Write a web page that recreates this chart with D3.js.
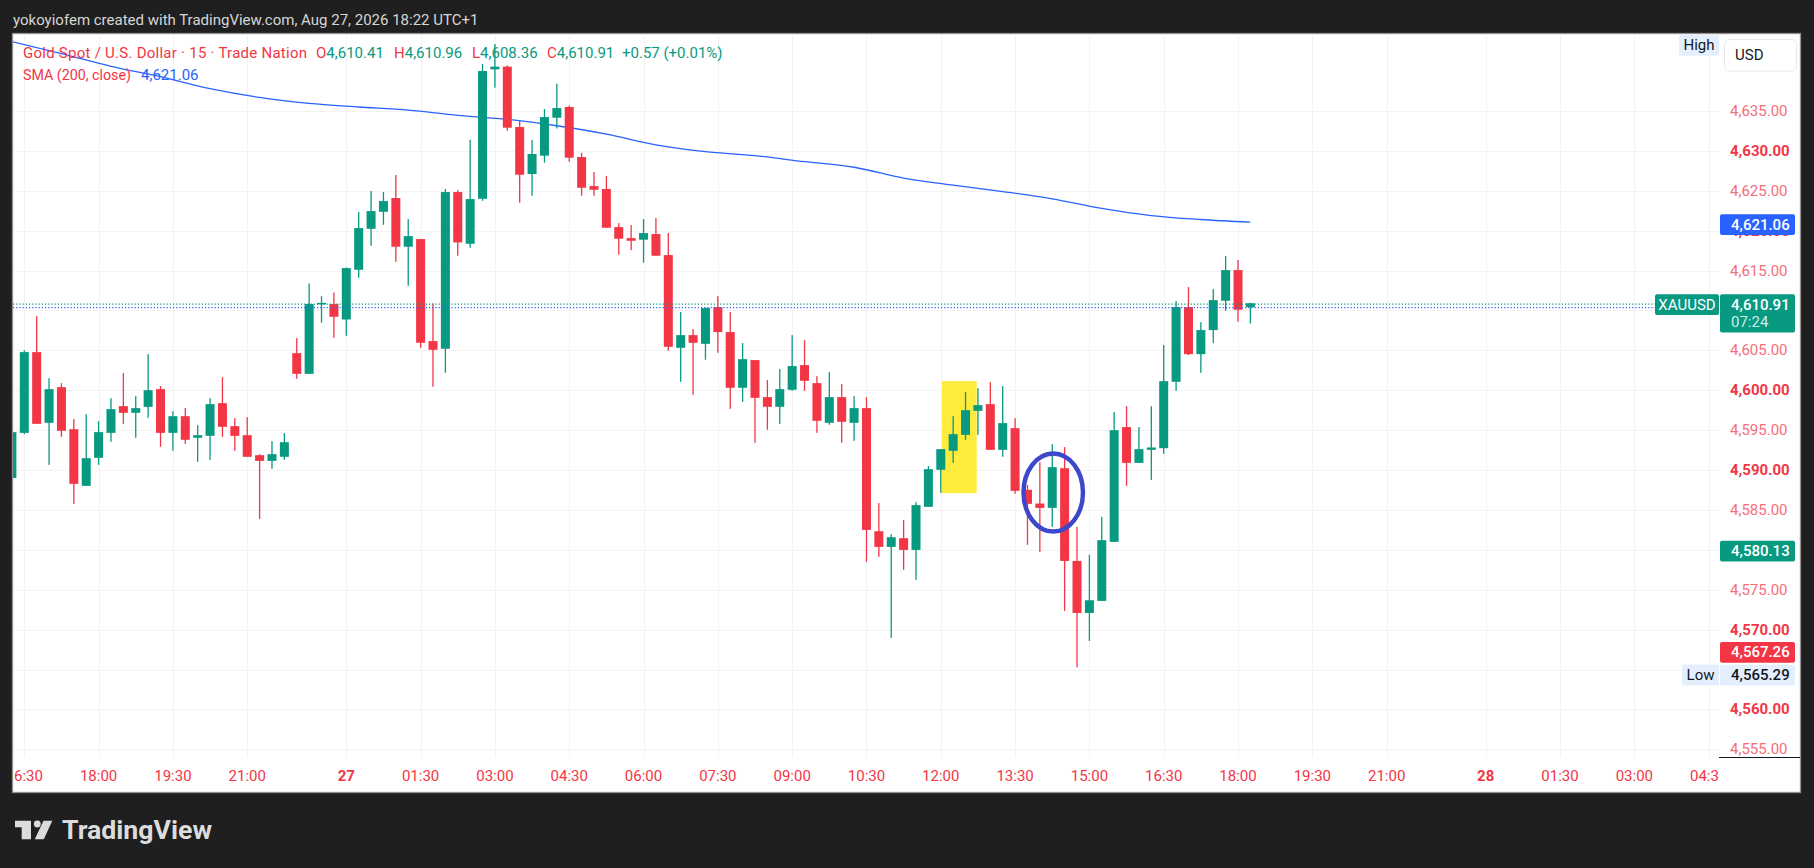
<!DOCTYPE html>
<html>
<head>
<meta charset="utf-8">
<script src="https://cdn.jsdelivr.net/npm/d3@7"></script>
<style>
  body { margin: 0; background: #1f1f1f; overflow: hidden; }
  text { font-family: Roboto, "Noto Sans", sans-serif; }
</style>
</head>
<body>
<svg id="chart" width="1814" height="868"></svg>
<script>
// 15 min bars, index 0 = Aug 26 16:15 (UTC+1)
var opens = [4589.00,4594.66,4604.78,4595.92,4600.39,4595.12,4588.02,4591.53,4594.66,4598.01,
  4597.17,4597.92,4600.14,4594.66,4596.75,4594.04,4594.29,4598.38,4595.50,4594.37,
  4591.86,4591.15,4591.66,4604.65,4602.06,4610.85,4610.80,4608.87,4615.10,4620.24,
  4622.37,4624.09,4617.99,4618.95,4606.16,4605.20,4624.84,4618.36,4624.00,4640.22,
  4640.56,4632.99,4627.10,4629.40,4634.16,4635.50,4629.23,4625.59,4625.22,4620.45,
  4619.07,4618.87,4619.58,4616.94,4605.32,4606.91,4605.82,4610.42,4607.29,4600.31,
  4603.78,4599.14,4597.93,4600.06,4603.15,4600.89,4595.92,4599.14,4595.92,4597.76,
  4582.33,4580.37,4581.46,4579.99,4585.39,4590.03,4592.41,4594.41,4597.42,4598.26,
  4592.53,4595.25,4587.52,4585.80,4585.26,4590.23,4578.61,4572.09,4573.60,4581.00,
  4595.38,4590.90,4592.53,4592.74,4601.06,4610.42,4604.53,4607.54,4611.22,4615.06,
  4610.41];
var highs = [4595.00,4605.00,4609.29,4601.52,4600.89,4596.38,4597.01,4596.13,4599.01,4602.15,
  4599.26,4604.53,4600.52,4597.38,4597.76,4595.63,4599.01,4601.64,4596.50,4596.63,
  4591.99,4593.62,4594.62,4606.54,4613.39,4611.80,4612.26,4615.39,4622.33,4624.97,
  4624.84,4626.97,4621.45,4618.95,4610.88,4625.22,4625.09,4631.40,4640.89,4643.40,
  4640.72,4633.74,4631.36,4635.25,4638.42,4635.67,4629.77,4627.35,4626.85,4620.95,
  4620.70,4621.46,4621.58,4619.70,4609.80,4607.67,4610.38,4611.80,4609.80,4605.91,
  4603.78,4601.27,4602.65,4606.91,4606.28,4601.77,4602.27,4600.77,4599.26,4599.14,
  4585.85,4581.96,4583.72,4585.97,4590.49,4592.62,4596.75,4599.76,4600.27,4601.02,
  4600.52,4596.50,4588.14,4590.99,4593.24,4592.87,4582.88,4579.37,4584.13,4597.26,
  4598.01,4595.38,4598.01,4605.66,4611.17,4612.93,4608.54,4612.68,4616.82,4616.32,
  4610.96];
var lows = [4588.50,4594.50,4595.79,4590.65,4594.16,4585.76,4588.02,4590.65,4593.54,4595.79,
  4594.04,4596.55,4592.91,4592.41,4593.29,4591.03,4591.28,4594.16,4592.41,4591.66,
  4583.88,4590.15,4591.28,4601.44,4602.06,4608.46,4606.57,4606.83,4614.10,4618.11,
  4620.74,4616.10,4613.09,4605.32,4600.43,4602.19,4616.86,4617.86,4623.75,4637.92,
  4632.53,4623.50,4624.38,4628.52,4632.82,4628.64,4624.38,4624.38,4620.37,4616.99,
  4617.57,4615.98,4616.86,4604.95,4601.06,4599.43,4603.82,4604.70,4597.67,4598.55,
  4593.41,4595.04,4595.79,4599.93,4599.93,4594.67,4595.67,4593.41,4593.66,4578.49,
  4579.12,4568.96,4577.49,4576.23,4585.39,4587.14,4590.90,4593.79,4594.41,4592.53,
  4591.66,4587.02,4580.62,4579.74,4582.88,4572.35,4565.29,4568.58,4573.60,4581.00,
  4588.02,4590.90,4588.77,4592.03,4599.93,4604.40,4602.19,4605.91,4609.96,4608.58,
  4608.36];
var closes = [4594.75,4604.78,4595.79,4600.14,4594.92,4588.27,4591.49,4594.75,4597.63,4597.17,
  4597.76,4600.01,4594.66,4596.75,4593.79,4594.37,4598.26,4595.42,4594.29,4591.66,
  4591.15,4591.99,4593.49,4602.06,4610.80,4610.95,4609.21,4615.31,4620.33,4622.46,
  4623.71,4617.99,4619.32,4605.95,4605.07,4624.84,4618.53,4623.96,4640.01,4640.56,
  4632.91,4627.01,4629.61,4634.24,4635.37,4629.15,4625.38,4625.13,4620.37,4618.99,
  4618.74,4619.70,4616.86,4605.45,4606.91,4605.95,4610.30,4607.29,4600.31,4603.90,
  4599.05,4597.93,4600.14,4603.03,4601.19,4596.17,4599.14,4596.05,4597.76,4582.50,
  4580.37,4581.58,4579.99,4585.60,4590.11,4592.62,4594.50,4597.51,4598.13,4592.53,
  4595.88,4587.39,4585.76,4585.26,4590.36,4578.61,4572.09,4573.68,4581.21,4595.00,
  4590.90,4592.62,4592.83,4601.14,4610.42,4604.53,4607.54,4611.30,4615.06,4610.09,
  4610.91];

// SMA(200)
var smaIdx  = [0, 4, 8, 12, 16, 20, 24, 28, 32, 36, 40, 44, 48, 52, 56, 60, 64, 68, 72, 76, 80, 84, 88, 92, 96, 100];
var smaVals = [4643.7, 4642.2, 4640.6, 4639.3, 4637.8, 4636.7, 4635.95, 4635.5, 4635.1, 4634.45, 4633.95, 4633.15,
  4632.1, 4630.75, 4629.9, 4629.4, 4628.65, 4627.95, 4626.6, 4625.7, 4624.9, 4624.0, 4622.8, 4621.9, 4621.4, 4621.06];

// time axis
var timeIdx    = [1, 7, 13, 19, 27, 33, 39, 45, 51, 57, 63, 69, 75, 81, 87, 93, 99, 105, 111, 119, 125, 131, 137];
var timeLabels = ["16:30","18:00","19:30","21:00","27","01:30","03:00","04:30","06:00","07:30","09:00","10:30",
  "12:00","13:30","15:00","16:30","18:00","19:30","21:00","28","01:30","03:00","04:30"];

// price axis (labels hidden behind badges are left out)
var gridTicks  = [4555, 4560, 4565, 4570, 4575, 4580, 4585, 4590, 4595, 4600, 4605, 4610, 4615, 4620, 4625, 4630, 4635];
var priceTicks = [4555, 4560, 4570, 4575, 4585, 4590, 4595, 4600, 4605, 4615, 4620, 4625, 4630, 4635];

// hand drawn marks (bar index / price anchors)
var highlightBox = { i0: 75.1, i1: 77.9, p0: 4601.14, p1: 4587.10 };
var circleMark   = { i: 84.08, p: 4587.19, di: 2.4, dp: 4.89 };

var lastPrice = 4610.91, bidPrice = 4610.47, smaLast = 4621.06;
var lowPrice = 4565.29, markGreen = 4580.13, markRed = 4567.26;

var green = "#089981", red = "#f23645", blue = "#2962ff";

var svg = d3.select("#chart");
var plot = { left: 13, right: 1719, top: 34, bottom: 757 };

var x = d3.scaleLinear().domain([0, 137]).range([11.9, 11.9 + 12.385 * 137]);
var y = d3.scaleLinear().domain([4555, 4635]).range([749.3, 111]);

// header
svg.append("text")
  .attr("x", 13).attr("y", 20)
  .attr("dominant-baseline", "central")
  .attr("fill", "#d6d6d6")
  .style("font-size", "15px")
  .text("yokoyiofem created with TradingView.com, Aug 27, 2026 18:22 UTC+1");

// chart frame
svg.append("rect")
  .attr("x", 12.5).attr("y", 33.5)
  .attr("width", 1788).attr("height", 759)
  .attr("fill", "#ffffff")
  .attr("stroke", "#8f8f8f").attr("stroke-width", 1.3);

var defs = svg.append("defs");
defs.append("clipPath").attr("id", "plotClip")
  .append("rect")
  .attr("x", plot.left).attr("y", plot.top)
  .attr("width", plot.right - plot.left).attr("height", plot.bottom - plot.top);
defs.append("clipPath").attr("id", "timeClip")
  .append("rect")
  .attr("x", plot.left).attr("y", plot.bottom)
  .attr("width", plot.right - plot.left).attr("height", 35);

var g = svg.append("g").attr("clip-path", "url(#plotClip)");

// grid
g.selectAll(".hgrid").data(gridTicks).enter().append("line")
  .attr("x1", plot.left).attr("x2", plot.right)
  .attr("y1", d => Math.round(y(d)) + 0.5).attr("y2", d => Math.round(y(d)) + 0.5)
  .attr("stroke", "#f3f3f4");
g.selectAll(".vgrid").data(timeIdx).enter().append("line")
  .attr("x1", d => Math.round(x(d)) + 0.5).attr("x2", d => Math.round(x(d)) + 0.5)
  .attr("y1", plot.top).attr("y2", plot.bottom)
  .attr("stroke", "#f3f3f4");

// yellow highlight (sits behind the bars)
g.append("rect")
  .attr("x", x(highlightBox.i0))
  .attr("y", y(highlightBox.p0))
  .attr("width", x(highlightBox.i1) - x(highlightBox.i0))
  .attr("height", y(highlightBox.p1) - y(highlightBox.p0))
  .attr("fill", "#ffeb3b");

// SMA
var smaLine = d3.line()
  .x((d, i) => x(smaIdx[i]))
  .y(d => y(d))
  .curve(d3.curveMonotoneX);
g.append("path")
  .datum(smaVals)
  .attr("d", smaLine)
  .attr("fill", "none")
  .attr("stroke", blue)
  .attr("stroke-width", 1.3);

// candles
var bars = d3.range(opens.length);
var colorOf = i => closes[i] >= opens[i] ? green : red;
var bodyW = 9;

g.selectAll(".wick").data(bars).enter().append("rect")
  .attr("x", i => x(i) - 0.65)
  .attr("width", 1.3)
  .attr("y", i => y(highs[i]))
  .attr("height", i => Math.max(1, y(lows[i]) - y(highs[i])))
  .attr("fill", colorOf);

g.selectAll(".body").data(bars).enter().append("rect")
  .attr("x", i => x(i) - bodyW / 2)
  .attr("width", bodyW)
  .attr("y", i => y(Math.max(opens[i], closes[i])))
  .attr("height", i => Math.max(1.5, Math.abs(y(opens[i]) - y(closes[i]))))
  .attr("fill", colorOf);

// price / bid lines
g.append("line")
  .attr("x1", plot.left).attr("x2", 1655)
  .attr("y1", y(lastPrice) + 1).attr("y2", y(lastPrice) + 1)
  .attr("stroke", green).attr("stroke-width", 1.2)
  .attr("stroke-dasharray", "1.2,2");
g.append("line")
  .attr("x1", plot.left).attr("x2", 1655)
  .attr("y1", y(bidPrice) + 1).attr("y2", y(bidPrice) + 1)
  .attr("stroke", blue).attr("stroke-width", 1.2)
  .attr("stroke-dasharray", "1.2,2");

// circled bars
g.append("ellipse")
  .attr("cx", x(circleMark.i))
  .attr("cy", y(circleMark.p))
  .attr("rx", x(circleMark.i + circleMark.di) - x(circleMark.i))
  .attr("ry", y(circleMark.p - circleMark.dp) - y(circleMark.p))
  .attr("fill", "none")
  .attr("stroke", "#3d47c9")
  .attr("stroke-width", 4.5);

// legend
var legend1 = svg.append("g").style("font-size", "15px");
legend1.append("text").attr("x", 23).attr("y", 53).attr("dominant-baseline", "central")
  .attr("fill", red)
  .attr("textLength", 284).attr("lengthAdjust", "spacing")
  .text("Gold Spot / U.S. Dollar \u00b7 15 \u00b7 Trade Nation");
var ohlc = [["O", "4,610.41", 316], ["H", "4,610.96", 394], ["L", "4,608.36", 472], ["C", "4,610.91", 547]];
ohlc.forEach(function(d) {
  var t = legend1.append("text").attr("x", d[2]).attr("y", 53).attr("dominant-baseline", "central");
  t.append("tspan").attr("fill", red).text(d[0]);
  t.append("tspan").attr("fill", green).text(d[1]);
});
legend1.append("text").attr("x", 622).attr("y", 53).attr("dominant-baseline", "central")
  .attr("fill", green).text("+0.57 (+0.01%)");
legend1.append("text").attr("x", 23).attr("y", 75).attr("dominant-baseline", "central")
  .attr("fill", red)
  .attr("textLength", 108).attr("lengthAdjust", "spacingAndGlyphs")
  .text("SMA (200, close)");
legend1.append("text").attr("x", 141).attr("y", 75).attr("dominant-baseline", "central")
  .attr("fill", blue).text("4,621.06");

// price axis
var fmt = d3.format(",.2f");
var axisG = svg.append("g").style("font-size", "15px");
axisG.selectAll("text").data(priceTicks).enter().append("text")
  .attr("x", 1730)
  .attr("y", d => y(d))
  .attr("dominant-baseline", "central")
  .attr("fill", d => d % 10 === 0 ? red : "#f56e79")
  .style("font-weight", d => d % 10 === 0 ? 700 : 400)
  .text(d => fmt(d));

svg.append("line")
  .attr("x1", 1719).attr("x2", 1800)
  .attr("y1", 757.5).attr("y2", 757.5)
  .attr("stroke", "#131722").attr("stroke-width", 1);

// time axis
svg.append("g").attr("clip-path", "url(#timeClip)")
  .selectAll("text").data(timeIdx).enter().append("text")
  .attr("x", d => x(d))
  .attr("y", 776)
  .attr("text-anchor", "middle")
  .attr("dominant-baseline", "central")
  .attr("fill", red)
  .style("font-size", "15px")
  .style("font-weight", (d, i) => timeLabels[i].length === 2 ? 700 : 400)
  .text((d, i) => timeLabels[i]);

// axis badges
function badge(top, h, fill, label, color) {
  svg.append("rect").attr("x", 1720).attr("y", top).attr("width", 75).attr("height", h)
    .attr("rx", 2).attr("fill", fill);
  svg.append("text").attr("x", 1731).attr("y", top + 10.5)
    .attr("dominant-baseline", "central")
    .attr("fill", color).style("font-size", "15px").style("font-weight", 500)
    .text(label);
}
badge(y(smaLast) - 8, 20.7, blue, fmt(smaLast), "#ffffff");
badge(y(markGreen) - 8.1, 20.7, green, fmt(markGreen), "#ffffff");
badge(y(markRed) - 9.5, 20.7, red, fmt(markRed), "#ffffff");
// low tag is pushed below the red badge
var lowTop = y(markRed) - 9.5 + 22.7;
badge(lowTop, 20.7, "#e3effd", fmt(lowPrice), "#131722");

// last price badge with countdown
var lpTop = y(lastPrice) - 9;
svg.append("rect").attr("x", 1720).attr("y", lpTop).attr("width", 75).attr("height", 38.3)
  .attr("rx", 2).attr("fill", green);
svg.append("text").attr("x", 1731).attr("y", lpTop + 10.5).attr("dominant-baseline", "central")
  .attr("fill", "#ffffff").style("font-size", "15px").style("font-weight", 500).text(fmt(lastPrice));
svg.append("text").attr("x", 1731).attr("y", lpTop + 28).attr("dominant-baseline", "central")
  .attr("fill", "#cdeee6").style("font-size", "15px").text("07:24");
svg.append("rect").attr("x", 1655).attr("y", lpTop).attr("width", 64).attr("height", 20.7)
  .attr("rx", 2).attr("fill", green);
svg.append("text").attr("x", 1687).attr("y", lpTop + 10.5).attr("text-anchor", "middle")
  .attr("dominant-baseline", "central").attr("fill", "#ffffff").style("font-size", "15px").text("XAUUSD");

// Low / High tags
svg.append("rect").attr("x", 1682).attr("y", lowTop).attr("width", 37).attr("height", 20.7)
  .attr("fill", "#e3effd");
svg.append("text").attr("x", 1700.5).attr("y", lowTop + 10.5).attr("text-anchor", "middle")
  .attr("dominant-baseline", "central").attr("fill", "#131722").style("font-size", "15px").text("Low");
svg.append("rect").attr("x", 1679).attr("y", 34.7).attr("width", 40).attr("height", 21)
  .attr("fill", "#e3effd");
svg.append("text").attr("x", 1699).attr("y", 45.2).attr("text-anchor", "middle")
  .attr("dominant-baseline", "central").attr("fill", "#131722").style("font-size", "15px").text("High");

// currency button
svg.append("rect").attr("x", 1724.5).attr("y", 39.5).attr("width", 72).attr("height", 31.5)
  .attr("rx", 5).attr("fill", "#ffffff").attr("stroke", "#e6e8ee");
svg.append("text").attr("x", 1735).attr("y", 55).attr("dominant-baseline", "central")
  .attr("fill", "#131722").style("font-size", "15px").text("USD");

// TradingView logo
var logo = svg.append("g").attr("fill", "#dcdcdc");
logo.append("path").attr("d", "M15,820.7 H31 V839.3 H21.7 V827.3 H15 Z");
logo.append("circle").attr("cx", 37.3).attr("cy", 824).attr("r", 3.4);
logo.append("path").attr("d", "M43.5,820.7 H52.3 L43.8,839.3 H34.8 Z");
logo.append("text").attr("x", 62).attr("y", 830.5).attr("dominant-baseline", "central")
  .attr("textLength", 150).attr("lengthAdjust", "spacingAndGlyphs")
  .style("font-size", "25px").style("font-weight", 700).text("TradingView");
</script>
</body>
</html>
